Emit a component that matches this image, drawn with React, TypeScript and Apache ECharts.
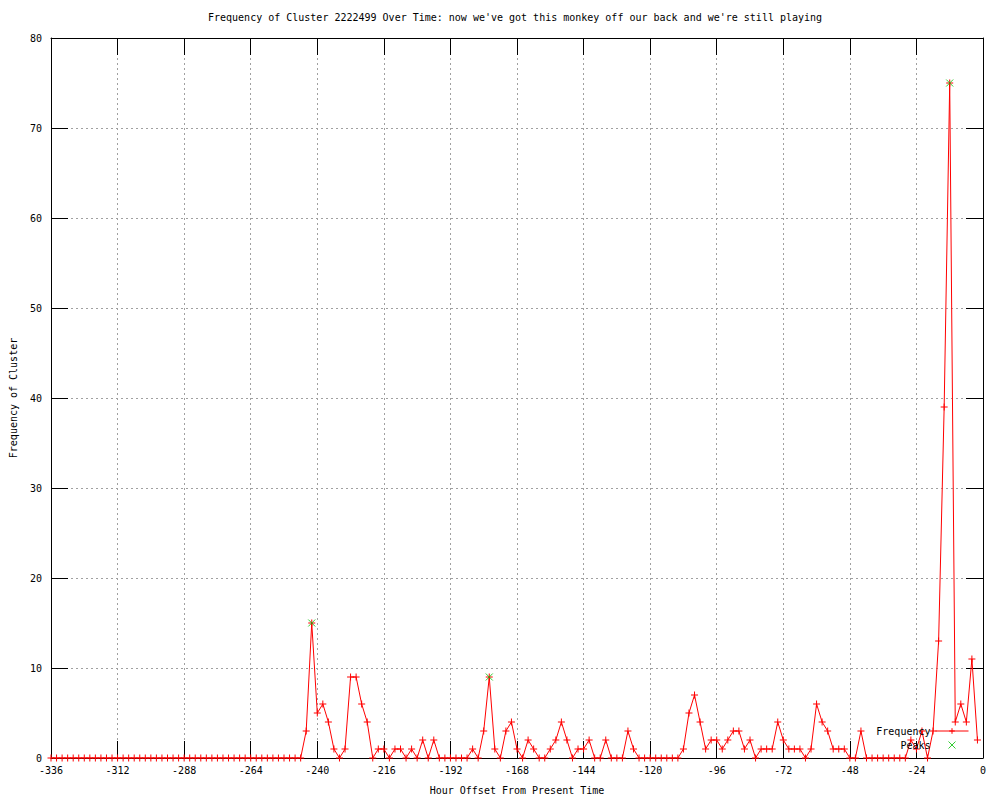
import React, { useEffect, useRef } from "react";
import * as echarts from "echarts";

const titleText =
  "Frequency of Cluster 2222499 Over Time: now we've got this monkey off our back and we're still playing";
const xAxisName = "Hour Offset From Present Time";
const yAxisName = "Frequency of Cluster";

const startHour = -336;
const stepHours = 2;

// Frequency every 2 hours from -336 to -2
const frequency = [
  0, 0, 0, 0, 0, 0, 0, 0, 0, 0,
  0, 0, 0, 0, 0, 0, 0, 0, 0, 0,
  0, 0, 0, 0, 0, 0, 0, 0, 0, 0,
  0, 0, 0, 0, 0, 0, 0, 0, 0, 0,
  0, 0, 0, 0, 0, 0,
  3, 15, 5, 6, 4, 1, 0, 1, 9, 9,
  6, 4, 0, 1, 1, 0, 1, 1, 0, 1,
  0, 2, 0, 2, 0, 0, 0, 0, 0, 0,
  1, 0, 3, 9, 1, 0, 3, 4, 1, 0,
  2, 1, 0, 0, 1, 2, 4, 2, 0, 1,
  1, 2, 0, 0, 2, 0, 0, 0, 3, 1,
  0, 0, 0, 0, 0, 0, 0, 0, 1, 5,
  7, 4, 1, 2, 2, 1, 2, 3, 3, 1,
  2, 0, 1, 1, 1, 4, 2, 1, 1, 1,
  0, 1, 6, 4, 3, 1, 1, 1, 0, 0,
  3, 0, 0, 0, 0, 0, 0, 0, 0, 2,
  1, 3, 0, 3, 13, 39, 75, 4, 6, 4,
  11, 2,
];

const peakHours = [-242, -178, -12];
const peakValues = [15, 9, 75];

const FONT = "'DejaVu Sans Mono', 'Liberation Mono', monospace";
const PLUS = "path://M0,5L10,5M5,0L5,10";
const CROSS = "path://M0,0L10,10M10,0L0,10";

export default function App() {
  const ref = useRef<HTMLDivElement>(null);
  useEffect(() => {
    if (!ref.current) return;
    const chart = echarts.init(ref.current, null, { renderer: "svg" });
    const freqData = frequency.map((v, i) => [startHour + i * stepHours, v]);
    const peakData = peakHours.map((h, i) => [h, peakValues[i]]);
    const tickStyle = { color: "#000", width: 1 };
    const gridLine = { show: true, lineStyle: { color: "#a0a0a0", type: [2, 3], width: 1 } };
    chart.setOption({
      animation: false,
      backgroundColor: "#fff",
      textStyle: { fontFamily: FONT },
      title: {
        text: titleText,
        left: 208,
        top: 12,
        padding: 0,
        textStyle: { fontFamily: FONT, fontSize: 10, fontWeight: "normal", color: "#000" },
      },
      grid: { left: 51, right: 17, top: 38, bottom: 40, containLabel: false },
      legend: {
        orient: "vertical",
        right: 31,
        top: 726,
        align: "right",
        itemWidth: 33,
        itemHeight: 7,
        itemGap: 4,
        padding: 0,
        lineStyle: { width: 1 },
        itemStyle: { borderWidth: 1 },
        textStyle: { fontFamily: FONT, fontSize: 10, color: "#000" },
        data: ["Frequency", "Peaks"],
      },
      xAxis: [
        {
          type: "value",
          min: -336,
          max: 0,
          interval: 24,
          name: xAxisName,
          nameLocation: "middle",
          nameGap: 27,
          nameTextStyle: { fontFamily: FONT, fontSize: 10, color: "#000" },
          axisLine: { show: true, onZero: false, lineStyle: tickStyle },
          axisTick: { show: true, inside: true, length: 17, lineStyle: tickStyle },
          axisLabel: { fontFamily: FONT, fontSize: 10, color: "#000", margin: 7 },
          splitLine: gridLine,
        },
        {
          type: "value",
          position: "top",
          min: -336,
          max: 0,
          interval: 24,
          axisLine: { show: true, onZero: false, lineStyle: tickStyle },
          axisTick: { show: true, inside: true, length: 17, lineStyle: tickStyle },
          axisLabel: { show: false },
          splitLine: { show: false },
        },
      ],
      yAxis: [
        {
          type: "value",
          min: 0,
          max: 80,
          interval: 10,
          name: yAxisName,
          nameLocation: "middle",
          nameGap: 33,
          nameRotate: 90,
          nameTextStyle: { fontFamily: FONT, fontSize: 10, color: "#000" },
          axisLine: { show: true, onZero: false, lineStyle: tickStyle },
          axisTick: { show: true, inside: true, length: 17, lineStyle: tickStyle },
          axisLabel: { fontFamily: FONT, fontSize: 10, color: "#000", margin: 9 },
          splitLine: gridLine,
        },
        {
          type: "value",
          position: "right",
          min: 0,
          max: 80,
          interval: 10,
          axisLine: { show: true, onZero: false, lineStyle: tickStyle },
          axisTick: { show: true, inside: true, length: 17, lineStyle: tickStyle },
          axisLabel: { show: false },
          splitLine: { show: false },
        },
      ],
      series: [
        {
          name: "Frequency",
          type: "line",
          data: freqData,
          xAxisIndex: 0,
          yAxisIndex: 0,
          symbol: PLUS,
          symbolSize: 7,
          showAllSymbol: true,
          lineStyle: { color: "#ff0000", width: 1 },
          itemStyle: { color: "#ff0000", borderColor: "#ff0000", borderWidth: 1 },
          emphasis: { disabled: true },
          z: 2,
        },
        {
          name: "Peaks",
          type: "scatter",
          data: peakData,
          xAxisIndex: 0,
          yAxisIndex: 0,
          symbol: CROSS,
          symbolSize: 7,
          itemStyle: { color: "#00c000", borderColor: "#00c000", borderWidth: 1 },
          emphasis: { disabled: true },
          z: 3,
        },
      ],
    });
    return () => chart.dispose();
  }, []);
  return (
    <div
      ref={ref}
      style={{ position: "absolute", left: 0, top: 0, width: 1000, height: 800 }}
    />
  );
}
